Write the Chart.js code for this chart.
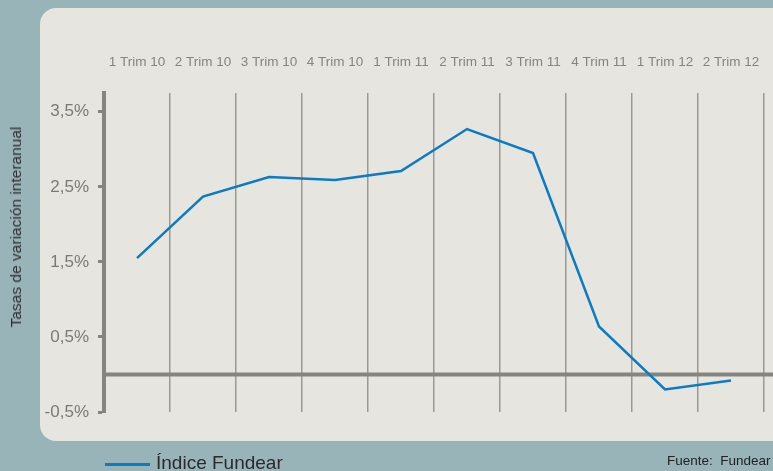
<!DOCTYPE html>
<html lang="es">
<head>
<meta charset="utf-8">
<title>Índice Fundear</title>
<script src="https://cdn.jsdelivr.net/npm/chart.js@4/dist/chart.umd.min.js"></script>
<style>
    html, body {
        margin: 0;
        padding: 0;
        width: 773px;
        height: 471px;
        overflow: hidden;
        background: #98b4b9;
        font-family: 'Liberation Sans', Arial, sans-serif;
    }
    .panel {
        position: absolute;
        left: 40px;
        top: 8px;
        width: 780px;
        height: 433px;
        background: #e6e5df;
        border-radius: 16px;
    }
    #chart {
        position: absolute;
        left: 0;
        top: 0;
    }
    .y-title {
        position: absolute;
        left: 16px;
        top: 227px;
        transform: translate(-50%, -50%) rotate(-90deg);
        font-size: 15.5px;
        color: #2e2e2e;
        white-space: nowrap;
    }
    .legend {
        position: absolute;
        left: 105px;
        top: 452px;
        font-size: 19px;
        line-height: 22px;
        color: #2a2a2a;
        white-space: nowrap;
    }
    .legend .swatch {
        display: inline-block;
        width: 45px;
        height: 2.5px;
        background: #0b7cc4;
        vertical-align: top;
        margin-top: 11px;
        margin-right: 6px;
    }
    .source {
        position: absolute;
        left: 667px;
        top: 453px;
        font-size: 13.5px;
        color: #222;
        white-space: pre;
    }
</style>
</head>
<body>
<div class="panel"></div>
<canvas id="chart" width="773" height="471"></canvas>
<div class="y-title">Tasas de variación interanual</div>
<div class="legend"><span class="swatch"></span>Índice Fundear</div>
<div class="source">Fuente:  Fundear</div>

<script>
// Quarters shown along the top axis
const categories = [
    '1 Trim 10', '2 Trim 10', '3 Trim 10', '4 Trim 10',
    '1 Trim 11', '2 Trim 11', '3 Trim 11', '4 Trim 11',
    '1 Trim 12', '2 Trim 12'
];

// Índice Fundear, year-on-year rate (%)
const indiceFundear = [1.55, 2.37, 2.63, 2.59, 2.71, 3.27, 2.95, 0.64, -0.20, -0.08];

// Y axis tick values
const yTicks = [-0.5, 0.5, 1.5, 2.5, 3.5];

document.addEventListener('DOMContentLoaded', function() {
    Chart.defaults.font.family = "'Liberation Sans', Arial, sans-serif";

    const axisGray = '#858580';

    // Thick zero line that runs out to the right edge
    const zeroLinePlugin = {
        id: 'zeroLine',
        beforeDatasetsDraw(chart) {
            const ctx = chart.ctx;
            const y = chart.scales.y.getPixelForValue(0);
            ctx.save();
            ctx.strokeStyle = axisGray;
            ctx.lineWidth = 4;
            ctx.beginPath();
            ctx.moveTo(chart.chartArea.left, y);
            ctx.lineTo(chart.width, y);
            ctx.stroke();
            ctx.restore();
        }
    };

    const ctx = document.getElementById('chart').getContext('2d');
    new Chart(ctx, {
        type: 'line',
        data: {
            labels: categories,
            datasets: [{
                label: 'Índice Fundear',
                data: indiceFundear,
                borderColor: '#0b7cc4',
                borderWidth: 2.5,
                pointRadius: 0,
                tension: 0,
                fill: false
            }]
        },
        options: {
            responsive: false,
            animation: false,
            layout: {
                padding: { left: 0, right: 9, top: 0, bottom: 59 }
            },
            plugins: {
                legend: { display: false },
                tooltip: { enabled: false }
            },
            scales: {
                x: {
                    position: 'top',
                    offset: true,
                    border: { display: false },
                    grid: {
                        offset: true,
                        color: '#9a9992',
                        lineWidth: 1.5,
                        drawTicks: false
                    },
                    ticks: {
                        color: '#85857f',
                        font: { size: 13.5 },
                        padding: 23,
                        maxRotation: 0,
                        autoSkip: false
                    },
                    afterFit: function(scale) {
                        scale.height = 93;
                        scale.paddingLeft = 0;
                        scale.paddingRight = 0;
                    }
                },
                y: {
                    min: -0.5,
                    max: 3.75,
                    border: { color: axisGray, width: 4 },
                    grid: {
                        drawOnChartArea: false,
                        drawTicks: true,
                        tickLength: 6,
                        tickWidth: 3,
                        tickColor: axisGray
                    },
                    afterBuildTicks: function(scale) {
                        scale.ticks = yTicks.map(v => ({ value: v }));
                    },
                    ticks: {
                        color: '#7b7b76',
                        font: { size: 17 },
                        padding: 9,
                        callback: function(value) {
                            return value.toFixed(1).replace('.', ',') + '%';
                        }
                    },
                    afterFit: function(scale) {
                        scale.width = 104;
                    }
                }
            }
        },
        plugins: [zeroLinePlugin]
    });
});
</script>
</body>
</html>
